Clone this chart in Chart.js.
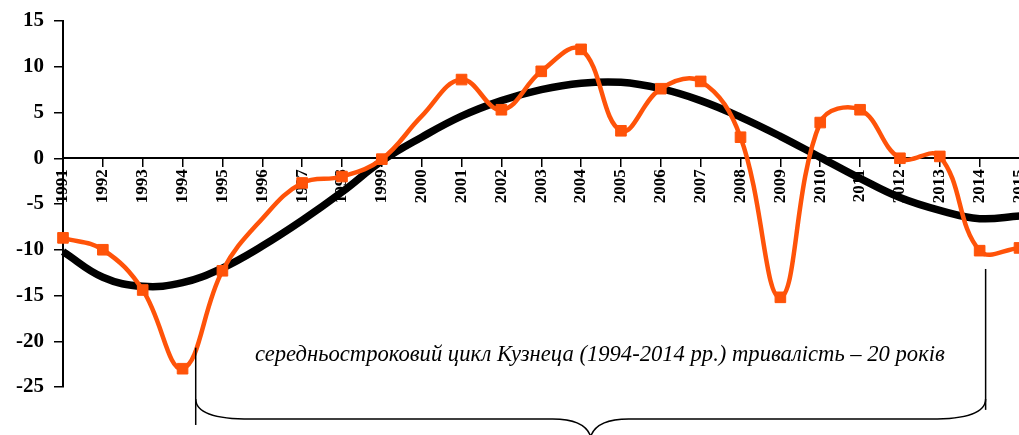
<!DOCTYPE html>
<html>
<head>
<meta charset="utf-8">
<script src="https://cdn.jsdelivr.net/npm/chart.js@4/dist/chart.umd.min.js"></script>
<style>
  html, body { margin: 0; padding: 0; background: #fff; overflow: hidden; }
  #wrap { width: 1028px; height: 435px; }
</style>
</head>
<body>
<div id="wrap"><canvas id="c" width="1028" height="435"></canvas></div>
<script>
// ---- data ----
const years = ['1991','1992','1993','1994','1995','1996','1997','1998','1999','2000','2001','2002','2003','2004','2005','2006','2007','2008','2009','2010','2011','2012','2013','2014','2015'];
const actualValues = [-8.7, -10.0, -14.4, -23.0, -12.3, -6.6, -2.7, -2.0, -0.1, 4.6, 8.6, 5.3, 9.5, 11.9, 3.0, 7.6, 8.4, 2.3, -15.2, 3.9, 5.3, 0.0, 0.2, -10.1, -9.8];
const trendValues  = [-10.2, -13.0, -14.0, -13.6, -12.0, -9.6, -6.8, -3.7, -0.3, 2.3, 4.6, 6.3, 7.5, 8.2, 8.3, 7.6, 6.3, 4.5, 2.4, 0.1, -2.2, -4.3, -5.7, -6.6, -6.3];
const markerShown  = [1,1,1,1,1,0,1,1,1,0,1,1,1,1,1,1,1,1,1,1,1,1,1,1,1];
const yTicks = { min: -25, max: 15, step: 5 };
const annotationText = 'середньостроковий цикл Кузнеца (1994-2014 рр.) тривалість – 20 років';
const braceStart = 1994.33, braceEnd = 2014.15, firstYear = 1991;

const ORANGE = '#FF5309';

const bracePlugin = {
  id: 'brace',
  afterDraw(chart) {
    const ctx = chart.ctx;
    const xs = chart.scales.x, ys = chart.scales.y;
    const px = yr => xs.getPixelForValue(yr - firstYear);
    const py = v => ys.getPixelForValue(v);
    const xL = px(braceStart), xR = px(braceEnd), xM = (xL + xR) / 2;
    const yH = py(-28.5), yTip = py(-30.4);
    ctx.save();
    ctx.strokeStyle = '#000';
    ctx.lineWidth = 1.5;
    ctx.beginPath();
    ctx.moveTo(xL, py(-20.7)); ctx.lineTo(xL, py(-29.15));
    ctx.stroke();
    ctx.beginPath();
    ctx.moveTo(xR, py(-12.1)); ctx.lineTo(xR, py(-27.5));
    ctx.stroke();
    ctx.beginPath();
    ctx.moveTo(xL, py(-26.3));
    ctx.quadraticCurveTo(xL, yH, xL + 55, yH);
    ctx.lineTo(xM - 38, yH);
    ctx.quadraticCurveTo(xM - 6, yH, xM, yTip);
    ctx.quadraticCurveTo(xM + 6, yH, xM + 38, yH);
    ctx.lineTo(xR - 55, yH);
    ctx.quadraticCurveTo(xR, yH, xR, py(-26.3));
    ctx.stroke();
    const target = 690;
    ctx.font = 'italic 20px "Liberation Serif"';
    const w = ctx.measureText(annotationText).width;
    const size = 20 * target / w;
    ctx.font = 'italic ' + size.toFixed(2) + 'px "Liberation Serif"';
    ctx.fillStyle = '#000';
    ctx.textBaseline = 'alphabetic';
    ctx.textAlign = 'left';
    ctx.fillText(annotationText, 255, 361);
    ctx.restore();
  }
};

new Chart(document.getElementById('c'), {
  type: 'line',
  data: {
    labels: years,
    datasets: [
      {
        label: 'actual',
        data: actualValues,
        borderColor: ORANGE,
        backgroundColor: ORANGE,
        borderWidth: 4.5,
        tension: 0.4,
        pointStyle: 'rect',
        pointRadius: markerShown.map(m => m ? 7.5 : 0),
        pointBackgroundColor: ORANGE,
        pointBorderColor: ORANGE,
        pointBorderWidth: 1
      },
      {
        label: 'trend',
        data: trendValues,
        borderColor: '#000',
        backgroundColor: '#000',
        borderWidth: 7.5,
        tension: 0.4,
        pointRadius: 0
      }
    ]
  },
  options: {
    responsive: false,
    animation: false,
    events: [],
    layout: { padding: { top: 21, bottom: 48, left: 0, right: 0 } },
    plugins: { legend: { display: false }, tooltip: { enabled: false } },
    scales: {
      x: {
        type: 'category',
        position: { y: 0 },
        z: 1,
        offset: false,
        grid: { drawOnChartArea: false, drawTicks: true, tickLength: 8, color: '#000', lineWidth: 1.5 },
        border: { display: true, color: '#000', width: 2 },
        ticks: {
          autoSkip: false, maxRotation: 90, minRotation: 90, padding: 3, color: '#000',
          font: { family: '"Liberation Serif"', weight: 'bold', size: 17 }
        },
        afterFit: s => { s.paddingLeft = 0; s.paddingRight = 0; }
      },
      y: {
        min: yTicks.min, max: yTicks.max,
        grid: { drawOnChartArea: false, drawTicks: true, tickLength: 9, color: '#000', lineWidth: 1.5 },
        border: { display: true, color: '#000', width: 2 },
        ticks: {
          stepSize: yTicks.step, padding: 10, color: '#000',
          font: { family: '"Liberation Serif"', weight: 'bold', size: 21 }
        },
        afterFit: s => { s.width = 63; s.paddingTop = 0; s.paddingBottom = 0; }
      }
    }
  },
  plugins: [bracePlugin]
});
</script>
</body>
</html>
